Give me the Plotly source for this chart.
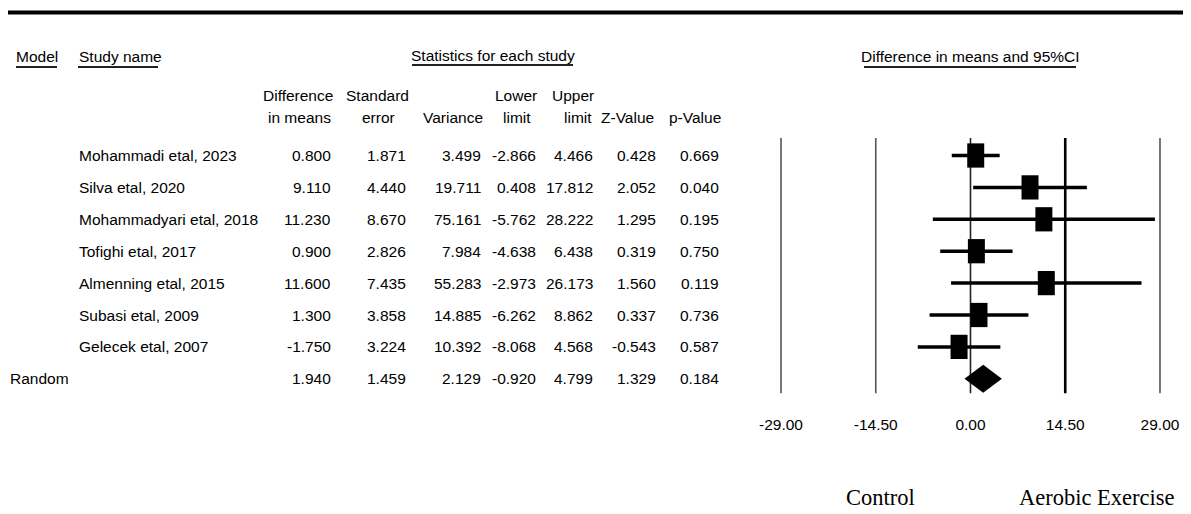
import plotly.graph_objects as go

# ---------------- data ----------------
studies = ["Mohammadi etal, 2023", "Silva etal, 2020", "Mohammadyari etal, 2018",
           "Tofighi etal, 2017", "Almenning etal, 2015", "Subasi etal, 2009",
           "Gelecek etal, 2007"]
diff = [0.800, 9.110, 11.230, 0.900, 11.600, 1.300, -1.750]
se = [1.871, 4.440, 8.670, 2.826, 7.435, 3.858, 3.224]
variance = [3.499, 19.711, 75.161, 7.984, 55.283, 14.885, 10.392]
lower = [-2.866, 0.408, -5.762, -4.638, -2.973, -6.262, -8.068]
upper = [4.466, 17.812, 28.222, 6.438, 26.173, 8.862, 4.568]
zval = [0.428, 2.052, 1.295, 0.319, 1.560, 0.337, -0.543]
pval = [0.669, 0.040, 0.195, 0.750, 0.119, 0.736, 0.587]

pooled_label = "Random"
pooled = {"diff": 1.940, "se": 1.459, "var": 2.129, "lower": -0.920,
          "upper": 4.799, "z": 1.329, "p": 0.184}

tick_vals = [-29.0, -14.5, 0.0, 14.5, 29.0]
tick_text = ["-29.00", "-14.50", "0.00", "14.50", "29.00"]
left_label = "Control"
right_label = "Aerobic Exercise"

# ---------------- geometry helpers ----------------
OX, OY = 8, 8                     # page body margin offset
W, H = 1191 - OX, 514 - OY
X0PX, XSCALE = 970.5 - OX, 6.534  # figure pixel of 0 and px per unit on forest axis
Y0PX, YSTEP = 155.5 - OY, 31.9    # figure pixel of first row and row spacing

def px(xp):
    return (xp - OX) / W

def py(yp):
    return 1 - (yp - OY) / H

FONT = "Liberation Sans, Arial, sans-serif"
FS = 15.5
SERIF = "Liberation Serif, Times New Roman, serif"

fig = go.Figure()

n = len(studies)
rows = list(range(n))

# confidence interval lines
xs, ys = [], []
for i in rows:
    xs += [lower[i], upper[i], None]
    ys += [i, i, None]
fig.add_trace(go.Scatter(x=xs, y=ys, mode="lines",
                         line=dict(color="black", width=3.5),
                         hoverinfo="skip", showlegend=False))

# study squares (rectangles)
hw, hh = 1.3, 0.38
for i in rows:
    d = diff[i]
    fig.add_trace(go.Scatter(x=[d - hw, d + hw, d + hw, d - hw, d - hw],
                             y=[i - hh, i - hh, i + hh, i + hh, i - hh],
                             mode="lines", fill="toself", fillcolor="black",
                             line=dict(color="black", width=0),
                             hoverinfo="skip", showlegend=False))

# pooled diamond
r = n
dh = 0.44
fig.add_trace(go.Scatter(x=[pooled["lower"], pooled["diff"], pooled["upper"], pooled["diff"], pooled["lower"]],
                         y=[r, r - dh, r, r + dh, r],
                         mode="lines", fill="toself", fillcolor="black",
                         line=dict(color="black", width=0),
                         hoverinfo="skip", showlegend=False))

# vertical reference lines
shapes = []
for v in tick_vals:
    if v == 14.5:
        col, wd = "black", 2.6
    elif v == 0:
        col, wd = "#222222", 1.6
    else:
        col, wd = "#555555", 1.6
    shapes.append(dict(type="line", xref="x", yref="y", x0=v, x1=v,
                       y0=-0.55, y1=n + 0.45, line=dict(color=col, width=wd),
                       layer="below"))

# top rule
shapes.append(dict(type="line", xref="paper", yref="paper", x0=0, x1=1,
                   y0=py(12.5), y1=py(12.5), line=dict(color="black", width=4)))

# header underlines
for (a, b, yy) in [(16, 57, 67), (78, 158, 67), (412, 573, 65), (864, 1076, 67)]:
    shapes.append(dict(type="line", xref="paper", yref="paper", x0=px(a), x1=px(b),
                       y0=py(yy), y1=py(yy), line=dict(color="#222222", width=2.2)))

ann = []

def txt(text, x, y, anchor="left", size=FS, family=FONT, yref="paper"):
    ann.append(dict(text=text, x=x, y=y, xref="paper", yref=yref,
                    xanchor=anchor, yanchor="middle", showarrow=False,
                    font=dict(family=family, size=size, color="black")))

# section headers
txt("Model", px(14), py(56))
txt("Study name", px(77), py(56))
txt("Statistics for each study", px(492.5), py(55), anchor="center")
txt("Difference in means and 95%CI", px(970), py(56), anchor="center")

# column headers
for t, c in [("Difference", 297.5), ("Standard", 377.5), ("Lower", 516), ("Upper", 573)]:
    txt(t, px(c), py(95), anchor="center")
for t, c in [("in means", 299), ("error", 378.5), ("Variance", 452.5), ("limit", 517),
             ("limit", 577.5), ("Z-Value", 628), ("p-Value", 695)]:
    txt(t, px(c), py(118), anchor="center")

# table body
right_edges = [333, 408, 483, 538, 595, 658, 721]
cols = [diff, se, variance, lower, upper, zval, pval]
for i in rows:
    txt(studies[i], px(77), i, yref="y")
    for col, re in zip(cols, right_edges):
        txt(f"{col[i]:.3f}", px(re), i, anchor="right", yref="y")

txt(pooled_label, px(8), n, yref="y")
pvals = [pooled["diff"], pooled["se"], pooled["var"], pooled["lower"],
         pooled["upper"], pooled["z"], pooled["p"]]
for v, re in zip(pvals, right_edges):
    txt(f"{v:.3f}", px(re), n, anchor="right", yref="y")

# bottom labels
txt(left_label, px(880), py(497), anchor="center", size=22.5, family=SERIF)
txt(right_label, px(1097), py(497), anchor="center", size=22.5, family=SERIF)

fig.update_layout(
    width=W, height=H,
    margin=dict(l=0, r=0, t=0, b=0),
    paper_bgcolor="white", plot_bgcolor="white",
    shapes=shapes, annotations=ann,
    xaxis=dict(domain=[0, 1],
               range=[(0 - X0PX) / XSCALE, (W - X0PX) / XSCALE],
               tickvals=tick_vals, ticktext=tick_text,
               showgrid=False, zeroline=False, showline=False, ticks="",
               anchor="free", position=py(413),
               tickfont=dict(family=FONT, size=FS, color="black"),
               fixedrange=True),
    yaxis=dict(range=[(H - Y0PX) / YSTEP, (0 - Y0PX) / YSTEP],
               showgrid=False, zeroline=False, showticklabels=False,
               showline=False, fixedrange=True),
    showlegend=False,
)

fig.write_html("out.html")
